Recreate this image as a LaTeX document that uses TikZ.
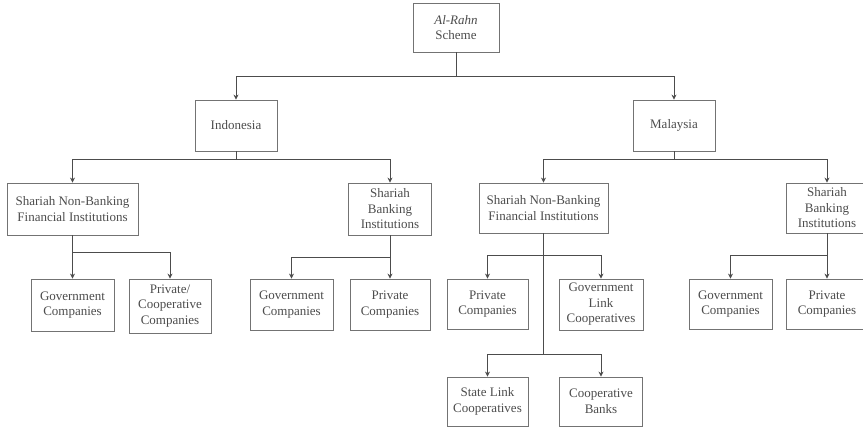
\documentclass[tikz,border=0pt]{standalone}
\usepackage{fontspec}
\setmainfont{Liberation Serif}
\usetikzlibrary{arrows.meta}
\begin{document}
\begin{tikzpicture}[x=1pt,y=-1pt,
  box/.style={draw=black!55, line width=0.8pt, align=center, inner sep=0pt,
    font=\fontsize{13}{15.5}\selectfont, text=black!70},
  wh/.style 2 args={minimum width=#1pt, minimum height=#2pt},
  conn/.style={draw=black!70, line width=0.8pt},
  arr/.style={conn, -{Stealth[length=5pt,width=5pt]}}]
\useasboundingbox (0,0) rectangle (863,428);

\node[box, wh={86}{49}] (top) at (456,27.5) {\textit{Al-Rahn}\\Scheme};
\node[box, wh={82}{51}] (indo) at (236,125.5) {Indonesia};
\node[box, wh={82}{51}] (malay) at (674,125.5) {Malaysia};

\node[box, wh={131}{52}] (snbI) at (72.5,209) {Shariah Non-Banking\\Financial Institutions};
\node[box, wh={83}{52}] (sbI) at (390,209) {Shariah\\Banking\\Institutions};
\node[box, wh={129}{50}] (snbM) at (543.5,208) {Shariah Non-Banking\\Financial Institutions};
\node[box, wh={82}{50}] (sbM) at (827,208) {Shariah\\Banking\\Institutions};

\node[box, wh={83}{52}] (govI1) at (72.5,305) {Government\\Companies};
\node[box, wh={82}{54}] (pcI) at (170,306) {Private/\\Cooperative\\Companies};
\node[box, wh={83}{51}] (govI2) at (291.5,304.5) {Government\\Companies};
\node[box, wh={80}{51}] (prI) at (390,304.5) {Private\\Companies};
\node[box, wh={81}{50}] (prM) at (487.5,304) {Private\\Companies};
\node[box, wh={84}{51}] (glcM) at (601,304.5) {Government\\Link\\Cooperatives};
\node[box, wh={81}{49}] (slcM) at (487.5,401.5) {State Link\\Cooperatives};
\node[box, wh={83}{49}] (cbM) at (601,401.5) {Cooperative\\Banks};
\node[box, wh={83}{50}] (govM) at (730.5,304) {Government\\Companies};
\node[box, wh={82}{50}] (prM2) at (827,304) {Private\\Companies};

% level 0 -> 1
\draw[conn] (top.south) -- ++(0,24) coordinate (j0);
\draw[arr] (j0) -| (indo.north);
\draw[arr] (j0) -| (malay.north);
% Indonesia
\draw[conn] (indo.south) -- ++(0,8) coordinate (j1);
\draw[arr] (j1) -| (snbI.north);
\draw[arr] (j1) -| (sbI.north);
\draw[conn] (snbI.south) -- ++(0,17) coordinate (j2);
\draw[arr] (j2) -| (govI1.north);
\draw[arr] (j2) -| (pcI.north);
\draw[conn] (sbI.south) -- ++(0,22) coordinate (j3);
\draw[arr] (j3) -| (govI2.north);
\draw[arr] (j3) -| (prI.north);
% Malaysia
\draw[conn] (malay.south) -- ++(0,8) coordinate (j4);
\draw[arr] (j4) -| (snbM.north);
\draw[arr] (j4) -| (sbM.north);
\path (snbM.south) ++(0,22) coordinate (j5a);
\draw[conn] (snbM.south) -- ++(0,121) coordinate (j5b);
\draw[arr] (j5a) -| (prM.north);
\draw[arr] (j5a) -| (glcM.north);
\draw[arr] (j5b) -| (slcM.north);
\draw[arr] (j5b) -| (cbM.north);
\draw[conn] (sbM.south) -- ++(0,22) coordinate (j6);
\draw[arr] (j6) -| (govM.north);
\draw[arr] (j6) -| (prM2.north);
\end{tikzpicture}
\end{document}
